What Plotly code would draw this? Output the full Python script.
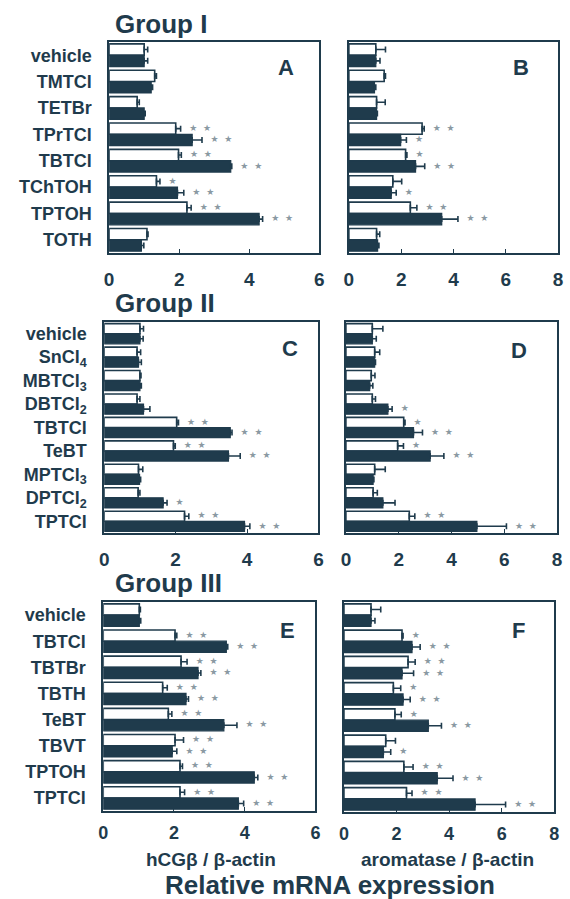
import plotly.graph_objects as go

INK = "#1f3b4c"
STAR = "#8a99a2"
FONT = "Liberation Sans, Arial, Helvetica, sans-serif"

# ---- Group I ----
g1_labels = ["vehicle", "TMTCl", "TETBr", "TPrTCl", "TBTCl", "TChTOH", "TPTOH", "TOTH"]
a_open = [1.00, 1.30, 0.80, 1.90, 1.98, 1.35, 2.22, 1.08]
a_open_err = [0.10, 0.05, 0.06, 0.14, 0.08, 0.10, 0.12, 0.03]
a_solid = [1.00, 1.20, 1.00, 2.37, 3.47, 1.95, 4.28, 0.92]
a_solid_err = [0.10, 0.04, 0.03, 0.28, 0.03, 0.18, 0.10, 0.07]
a_open_sig = ["", "", "", "**", "**", "*", "**", ""]
a_solid_sig = ["", "", "", "**", "**", "**", "**", ""]

b_open = [1.03, 1.35, 1.06, 2.80, 2.17, 1.68, 2.35, 1.06]
b_open_err = [0.37, 0.05, 0.33, 0.08, 0.05, 0.34, 0.25, 0.12]
b_solid = [1.03, 0.98, 1.06, 1.98, 2.55, 1.62, 3.55, 1.10]
b_solid_err = [0.16, 0.05, 0.03, 0.22, 0.35, 0.19, 0.62, 0.05]
b_open_sig = ["", "", "", "**", "*", "", "**", ""]
b_solid_sig = ["", "", "", "*", "**", "*", "**", ""]

# ---- Group II ----
g2_labels = ["vehicle", "SnCl<sub>4</sub>", "MBTCl<sub>3</sub>", "DBTCl<sub>2</sub>", "TBTCl",
             "TeBT", "MPTCl<sub>3</sub>", "DPTCl<sub>2</sub>", "TPTCl"]
c_open = [1.00, 0.92, 1.00, 0.92, 2.03, 1.94, 0.96, 0.95, 2.25]
c_open_err = [0.10, 0.10, 0.03, 0.08, 0.05, 0.05, 0.12, 0.05, 0.12]
c_solid = [1.00, 0.96, 1.00, 1.10, 3.53, 3.48, 0.99, 1.65, 3.93]
c_solid_err = [0.09, 0.08, 0.04, 0.18, 0.05, 0.33, 0.03, 0.11, 0.15]
c_open_sig = ["", "", "", "", "**", "**", "", "", "**"]
c_solid_sig = ["", "", "", "", "**", "**", "", "*", "**"]

d_open = [1.00, 1.09, 0.96, 1.00, 2.19, 1.96, 1.09, 1.03, 2.40]
d_open_err = [0.40, 0.19, 0.14, 0.12, 0.05, 0.22, 0.40, 0.16, 0.21]
d_solid = [1.00, 1.09, 0.90, 1.59, 2.56, 3.19, 1.03, 1.40, 4.96]
d_solid_err = [0.15, 0.03, 0.12, 0.16, 0.34, 0.52, 0.03, 0.46, 1.12]
d_open_sig = ["", "", "", "", "*", "*", "", "", "**"]
d_solid_sig = ["", "", "", "*", "**", "**", "", "", "**"]

# ---- Group III ----
g3_labels = ["vehicle", "TBTCl", "TBTBr", "TBTH", "TeBT", "TBVT", "TPTOH", "TPTCl"]
e_open = [1.02, 2.03, 2.20, 1.68, 1.84, 2.03, 2.17, 2.17]
e_open_err = [0.03, 0.05, 0.17, 0.13, 0.10, 0.24, 0.07, 0.13]
e_solid = [1.02, 3.48, 2.68, 2.34, 3.41, 1.95, 4.27, 3.82]
e_solid_err = [0.04, 0.04, 0.08, 0.07, 0.37, 0.13, 0.10, 0.15]
e_open_sig = ["", "**", "**", "**", "**", "**", "**", "**"]
e_solid_sig = ["", "**", "**", "**", "**", "**", "**", "**"]

f_open = [1.03, 2.21, 2.44, 1.88, 1.94, 1.59, 2.28, 2.38]
f_open_err = [0.37, 0.04, 0.27, 0.28, 0.24, 0.37, 0.35, 0.21]
f_solid = [1.03, 2.59, 2.21, 2.25, 3.21, 1.50, 3.55, 4.99]
f_solid_err = [0.15, 0.31, 0.44, 0.27, 0.50, 0.28, 0.60, 1.16]
f_open_sig = ["", "*", "**", "*", "*", "", "**", "**"]
f_solid_sig = ["", "**", "**", "**", "**", "*", "**", "**"]

x_ticks_hcg = [0, 2, 4, 6]
x_ticks_aro = [0, 2, 4, 6, 8]

panels = [
    dict(letter="A", labels=g1_labels, xmax=6, ticks=x_ticks_hcg, left=True,
         series=(a_open, a_open_err, a_solid, a_solid_err, a_open_sig, a_solid_sig)),
    dict(letter="B", labels=g1_labels, xmax=8, ticks=x_ticks_aro, left=False,
         series=(b_open, b_open_err, b_solid, b_solid_err, b_open_sig, b_solid_sig)),
    dict(letter="C", labels=g2_labels, xmax=6, ticks=x_ticks_hcg, left=True,
         series=(c_open, c_open_err, c_solid, c_solid_err, c_open_sig, c_solid_sig)),
    dict(letter="D", labels=g2_labels, xmax=8, ticks=x_ticks_aro, left=False,
         series=(d_open, d_open_err, d_solid, d_solid_err, d_open_sig, d_solid_sig)),
    dict(letter="E", labels=g3_labels, xmax=6, ticks=x_ticks_hcg, left=True,
         series=(e_open, e_open_err, e_solid, e_solid_err, e_open_sig, e_solid_sig)),
    dict(letter="F", labels=g3_labels, xmax=8, ticks=x_ticks_aro, left=False,
         series=(f_open, f_open_err, f_solid, f_solid_err, f_open_sig, f_solid_sig)),
]

# panel frames in pixels: (left, right, top, bottom)
W, H = 570, 899
frames = [
    (106, 320, 42, 253), (350, 563, 42, 253),
    (101, 319, 322, 533), (347, 562, 322, 533),
    (100, 316, 602, 811), (345, 559, 602, 812),
]
letter_pos = [(286, 68), (525, 68), (290, 348), (523, 350), (288, 630), (523, 630)]

BAR_GAP = 0.14
HALF = (1 - BAR_GAP) / 4  # centre offset of each bar within a category


def stars(s):
    return "   " + "  ".join("★" * len(s))


def paper_text(text, x, y, size, xanchor="center"):
    return dict(text=text, x=x / W, y=1 - y / H, xref="paper", yref="paper",
                xanchor=xanchor, yanchor="middle", showarrow=False,
                font=dict(size=size, family=FONT, color=INK, weight="bold"))


fig = go.Figure()
layout = dict(
    width=W, height=H, margin=dict(l=0, r=0, t=0, b=0),
    paper_bgcolor="white", plot_bgcolor="white",
    barmode="group", bargap=BAR_GAP, bargroupgap=0,
    showlegend=False, font=dict(family=FONT, color=INK),
)
annotations = []

for k, p in enumerate(panels):
    n = k + 1
    xa = "x" if n == 1 else f"x{n}"
    ya = "y" if n == 1 else f"y{n}"
    ov, oe, sv, se, osig, ssig = p["series"]
    idx = list(range(len(p["labels"])))

    fig.add_trace(go.Bar(
        x=ov, y=idx, orientation="h", xaxis=xa, yaxis=ya,
        marker=dict(color="white", line=dict(color=INK, width=1.6)),
        error_x=dict(type="data", symmetric=False, array=oe, arrayminus=[0] * len(oe),
                     color=INK, thickness=1.6, width=3),
    ))
    fig.add_trace(go.Bar(
        x=sv, y=idx, orientation="h", xaxis=xa, yaxis=ya,
        marker=dict(color=INK, line=dict(color=INK, width=1.2)),
        error_x=dict(type="data", symmetric=False, array=se, arrayminus=[0] * len(se),
                     color=INK, thickness=1.6, width=3),
    ))
    # significance marks after each error bar (only where a mark is given)
    sx, sy, st = [], [], []
    for vals, errs, sigs, off in ((ov, oe, osig, -HALF), (sv, se, ssig, HALF)):
        for i, (v, e, s) in enumerate(zip(vals, errs, sigs)):
            if s:
                sx.append(v + e)
                sy.append(i + off)
                st.append(stars(s))
    fig.add_trace(go.Scatter(
        x=sx, y=sy, text=st, mode="text", textposition="middle right",
        textfont=dict(family="DejaVu Sans", size=9, color=STAR),
        xaxis=xa, yaxis=ya, hoverinfo="skip",
    ))

    l, r, t, b = frames[k]
    bottom_row = k >= 4
    axis_line = dict(showline=True, mirror=True, linecolor=INK, linewidth=1.6,
                     showgrid=False, zeroline=False)
    layout["xaxis" if n == 1 else f"xaxis{n}"] = dict(
        domain=[l / W, r / W], anchor=ya, range=[0, p["xmax"]],
        tickvals=p["ticks"], ticks="inside", ticklen=4, tickwidth=1.4, tickcolor=INK,
        tickfont=dict(size=19 if not bottom_row else 18, family=FONT, color=INK, weight="bold"),
        ticklabelstandoff=8 if not bottom_row else 5, **axis_line,
    )
    layout["yaxis" if n == 1 else f"yaxis{n}"] = dict(
        domain=[1 - b / H, 1 - t / H], anchor=xa,
        range=[len(idx) - 0.5, -0.5], tickvals=idx, ticktext=p["labels"], ticks="",
        showticklabels=p["left"],
        tickfont=dict(size=18, family=FONT, color=INK, weight="bold"),
        ticklabelstandoff=12, **axis_line,
    )
    lx, ly = letter_pos[k]
    annotations.append(paper_text(p["letter"], lx, ly, 22))

# group headings
for txt, y in [("Group I", 24), ("Group II", 303), ("Group III", 583)]:
    annotations.append(paper_text(txt, 110, y, 26, xanchor="left"))

# axis titles
annotations += [
    paper_text("hCGβ / β-actin", 210, 859, 19),
    paper_text("aromatase / β-actin", 450, 859, 19),
    paper_text("Relative mRNA expression", 331, 885, 26),
]
layout["annotations"] = annotations
fig.update_layout(**layout)
fig.write_html("out.html")
